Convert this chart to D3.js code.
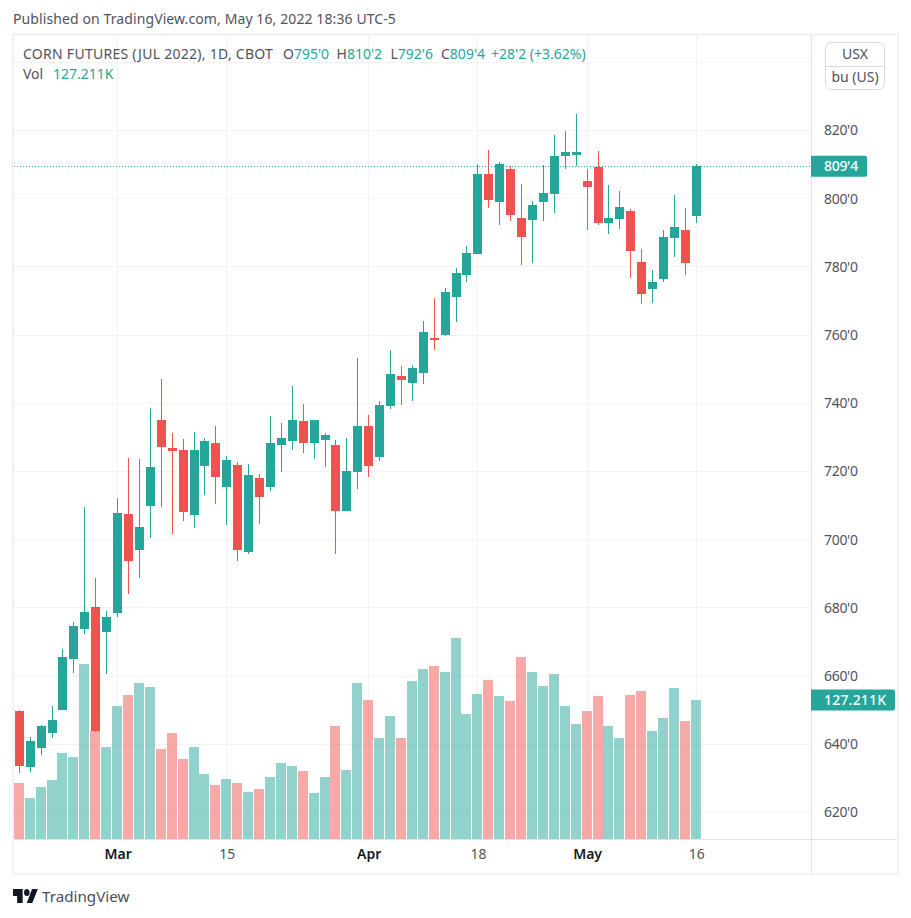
<!DOCTYPE html>
<html>
<head>
<meta charset="utf-8">
<script src="https://cdn.jsdelivr.net/npm/d3@7"></script>
<style>
  html, body { margin: 0; padding: 0; background: #fff; }
  svg { display: block; }
  text { font-family: "Noto Sans", sans-serif; }
</style>
</head>
<body>
<svg id="chart" width="911" height="918"></svg>
<script>
// trading days, Feb 15 to May 16 2022
const dates = [
  "02-15","02-16","02-17","02-18","02-22","02-23","02-24","02-25","02-28",
  "03-01","03-02","03-03","03-04","03-07","03-08","03-09","03-10","03-11",
  "03-14","03-15","03-16","03-17","03-18","03-21","03-22","03-23","03-24","03-25",
  "03-28","03-29","03-30","03-31","04-01","04-04","04-05","04-06","04-07","04-08",
  "04-11","04-12","04-13","04-14","04-18","04-19","04-20","04-21","04-22",
  "04-25","04-26","04-27","04-28","04-29","05-02","05-03","05-04","05-05","05-06",
  "05-09","05-10","05-11","05-12","05-13","05-16"
]
const opens = [
  649.75,633.25,639,643.25,650,665,673.75,680.25,673,678.5,707.5,697,710,735,727,726.25,
  707.25,721.5,728.25,715.5,722,696.5,718,715.5,727.75,729,734.75,728.25,729.25,727.75,708.5,
  719.75,733.25,724.25,739.25,748,746,749,759.25,760,771.25,777.5,783.75,807.25,799,808.75,
  794.25,793.75,799,801.5,812.5,812.75,805.25,809.25,792.75,794,796.5,781.5,773.5,776.5,788.5,790.75,795
]
const highs = [
  650,642.25,645.75,651.25,668,675.75,709.5,688.75,679,712.25,724,723.75,738.5,747,731.25,729.5,
  731.5,729.75,733.25,724.5,722.75,722.25,719.25,736.25,734.25,745,739.75,735,731.25,729.25,729.75,
  753.25,736.5,740.75,755.5,751,751.25,764.25,771,773.75,779.75,786,810.25,814.25,810.75,809.5,
  804.25,799.25,810,818.75,819.75,824.75,808.75,814,804,802.25,797,785.25,779,790.75,801,797.25,810.25
]
const lows = [
  631.5,631.75,636.75,641.75,650,661,672.25,643.5,660.5,677.25,684,688.75,700.5,709.5,701.75,705.5,
  703.5,713,710.5,704.25,693.75,695.75,704.5,714.25,719.75,726.25,725.5,723.75,721.25,695.75,708.5,
  714.75,718.5,723,738.25,739.5,740.75,745.75,755.5,759.75,763.75,775.5,783.75,797.25,792.25,793.5,
  780.5,781.25,793.5,795.75,808.75,809.5,790.75,792.25,789.75,791,776.75,769,769.5,775.5,783,777.5,792.75
]
const closes = [
  633.75,641,645.25,647,665.5,674.75,678.75,644,677.25,707.75,693.75,703.75,721.25,727.25,726,708,
  726.25,729,718.5,723.25,697,719,712.5,728.25,729.75,735,728.25,735,730.75,708.5,720.25,
  733.25,721.5,739.5,748.5,746.75,750.25,761,758.5,772.5,778.25,784,807.25,799.5,810.25,795.25,
  788.75,798.25,801.75,812.5,813.75,813.75,803.5,792.75,794.25,797.5,784.75,772,775.5,788.75,791.75,781.25,809.5
]
// volume in thousands
const volumes = [
  51.3,37.5,47.6,54,78.7,75,160.2,98.8,84.2,121.7,131.8,142.8,139.1,82.4,97,73.2,
  84.2,59.5,49.4,54.9,51.3,43,45.8,56.7,69.6,66.8,62.2,42.1,56.7,103.4,63.1,
  142.8,127.2,92.4,112.6,92.4,144.6,155.6,158.3,152.8,184,114.4,132.7,145.5,130.9,126.3,
  166.6,152.8,140,151,121.7,105.2,117.1,130.9,103.4,92.4,131.8,135.4,98.8,110.7,138.2,108,127.211
]
const priceTicks = [620,640,660,680,700,720,740,760,780,800,820]
const gridOnlyPrices = [840]
const timeTickDates = ["03-01","03-15","04-01","04-18","05-02","05-16"]
const timeTickLabels = ["Mar","15","Apr","18","May","16"]
const monthLabels = ["Mar","Apr","May"]

const UP = "#26a69a", DOWN = "#ef5350"
const GRID = "#f3f3f6", BORDER = "#e0e3eb", FRAME = "#f0f0f6"
const TEXT = "#50535e"

const axisX = 811.5, axisY = 839.5

const svg = d3.select("#chart")

const x = d3.scalePoint().domain(dates).range([19.3, 696.3])
const y = d3.scaleLinear().domain([620, 820]).range([812.5, 130.5])
const yVol = d3.scaleLinear().domain([0, 127.211]).range([839, 700])

const lastClose = closes[closes.length - 1]
const lastVol = volumes[volumes.length - 1]
const isUp = i => closes[i] >= opens[i]
const px = d => Math.floor(x(d))

// outer frame
svg.append("rect")
  .attr("x", 13).attr("y", 34.5).attr("width", 885).attr("height", 839.5)
  .attr("fill", "none").attr("stroke", FRAME).attr("stroke-width", 2)

// grid
const grid = svg.append("g").attr("shape-rendering", "crispEdges")
grid.selectAll("line.h").data(priceTicks.concat(gridOnlyPrices)).join("line")
  .attr("class", "h")
  .attr("x1", 14).attr("x2", axisX)
  .attr("y1", d => y(d)).attr("y2", d => y(d))
  .attr("stroke", GRID)
grid.selectAll("line.v").data(timeTickDates).join("line")
  .attr("class", "v")
  .attr("x1", d => px(d) + 0.5).attr("x2", d => px(d) + 0.5)
  .attr("y1", 35).attr("y2", axisY)
  .attr("stroke", GRID)

// volume
svg.append("g").attr("shape-rendering", "crispEdges")
  .selectAll("rect").data(dates).join("rect")
  .attr("x", d => px(d) - 5)
  .attr("width", 10)
  .attr("y", (d, i) => yVol(volumes[i]))
  .attr("height", (d, i) => yVol(0) - yVol(volumes[i]))
  .attr("fill", (d, i) => isUp(i) ? UP : DOWN)
  .attr("fill-opacity", 0.5)

// candles
const candles = svg.append("g").attr("shape-rendering", "crispEdges")
candles.selectAll("rect.wick").data(dates).join("rect")
  .attr("class", "wick")
  .attr("x", d => px(d))
  .attr("width", 1)
  .attr("y", (d, i) => y(highs[i]))
  .attr("height", (d, i) => y(lows[i]) - y(highs[i]))
  .attr("fill", (d, i) => isUp(i) ? UP : DOWN)
candles.selectAll("rect.body").data(dates).join("rect")
  .attr("class", "body")
  .attr("x", d => px(d) - 4)
  .attr("width", 9)
  .attr("y", (d, i) => y(Math.max(opens[i], closes[i])))
  .attr("height", (d, i) => Math.max(1, Math.abs(y(opens[i]) - y(closes[i]))))
  .attr("fill", (d, i) => isUp(i) ? UP : DOWN)

// last price line
svg.append("line")
  .attr("x1", 14).attr("x2", axisX)
  .attr("y1", Math.round(y(lastClose)) + 0.5).attr("y2", Math.round(y(lastClose)) + 0.5)
  .attr("stroke", UP).attr("stroke-dasharray", "1 2")

// axis borders
svg.append("line").attr("x1", 14).attr("x2", 897).attr("y1", axisY).attr("y2", axisY).attr("stroke", BORDER)
svg.append("line").attr("x1", axisX).attr("x2", axisX).attr("y1", 35).attr("y2", 873).attr("stroke", BORDER)

// price axis
const priceAxis = svg.append("g")
  .attr("transform", `translate(${axisX},0)`)
  .call(d3.axisRight(y).tickValues(priceTicks).tickSize(0).tickPadding(12.5).tickFormat(d => d + "'0"))
priceAxis.select(".domain").remove()
priceAxis.selectAll("text")
  .attr("fill", TEXT).style("font-size", "14px").style("letter-spacing", "-0.3px")
  .style("font-family", '"Noto Sans", sans-serif')

// time axis
const timeAxis = svg.append("g")
  .attr("transform", `translate(0,${axisY})`)
  .call(d3.axisBottom(x).tickValues(timeTickDates).tickSize(0).tickPadding(10)
    .tickFormat(d => timeTickLabels[timeTickDates.indexOf(d)]))
timeAxis.select(".domain").remove()
timeAxis.selectAll("text")
  .attr("fill", (d, i) => monthLabels.includes(timeTickLabels[i]) ? "#131722" : TEXT)
  .style("font-weight", (d, i) => monthLabels.includes(timeTickLabels[i]) ? "600" : "400")
  .style("font-size", "14px").style("font-family", '"Noto Sans", sans-serif')

// value badges on the price axis
function badge(cy, w, label, spacing) {
  const g = svg.append("g")
  g.append("path")
    .attr("d", `M${axisX - 0.5},${cy - 10.5}h${w - 2}a2,2 0 0 1 2,2v17a2,2 0 0 1 -2,2h${-(w - 2)}z`)
    .attr("fill", UP)
  g.append("text").attr("x", 824).attr("y", cy + 5)
    .attr("fill", "#fff").attr("font-size", 14).attr("font-weight", 500)
    .style("letter-spacing", spacing).text(label)
}
badge(y(lastClose), 56, "809'4", "-0.3px")
badge(yVol(lastVol), 84, "127.211K", "0.2px")

// currency / unit box
const unit = svg.append("g")
unit.append("rect").attr("x", 825.5).attr("y", 42.5).attr("width", 59).attr("height", 47).attr("rx", 6)
  .attr("fill", "#fff").attr("stroke", "#d6d8df")
unit.append("line").attr("x1", 825.5).attr("x2", 884.5).attr("y1", 66.5).attr("y2", 66.5).attr("stroke", "#d6d8df")
unit.append("text").attr("x", 855).attr("y", 59).attr("text-anchor", "middle").attr("fill", TEXT).attr("font-size", 14).text("USX")
unit.append("text").attr("x", 855).attr("y", 82).attr("text-anchor", "middle").attr("fill", TEXT).attr("font-size", 14).text("bu (US)")

// legend
svg.append("text").attr("x", 23).attr("y", 59).attr("font-size", 14).attr("fill", TEXT)
  .style("letter-spacing", "0.27px").text("CORN FUTURES (JUL 2022), 1D, CBOT")
const ohlcLabels = ["O", "H", "L", "C"]
const ohlcValues = ["795'0", "810'2", "792'6", "809'4"]
const ohlcX = [283, 336.5, 390.5, 441]
ohlcLabels.forEach((label, i) => {
  const t = svg.append("text").attr("x", ohlcX[i]).attr("y", 59).attr("font-size", 14)
  t.append("tspan").attr("fill", TEXT).text(label)
  t.append("tspan").attr("fill", UP).text(ohlcValues[i])
})
svg.append("text").attr("x", 491).attr("y", 59).attr("font-size", 14).attr("fill", UP).text("+28'2 (+3.62%)")

svg.append("text").attr("x", 23).attr("y", 79).attr("font-size", 14).attr("fill", TEXT).text("Vol")
svg.append("text").attr("x", 53).attr("y", 79).attr("font-size", 14).attr("fill", UP).text("127.211K")

// header and footer
svg.append("text").attr("x", 13).attr("y", 24).attr("font-size", 14).attr("fill", TEXT)
  .style("letter-spacing", "0.1px")
  .text("Published on TradingView.com, May 16, 2022 18:36 UTC-5")

const logo = svg.append("g").attr("transform", "translate(13,883.75) scale(0.69,0.875)").attr("fill", "#131722")
logo.append("path").attr("d", "M14 6H0v8h6v8h8V6ZM28 22h-8l7.5-16H36l-8 16Z")
logo.append("circle").attr("cx", 20).attr("cy", 10).attr("r", 4)
svg.append("text").attr("x", 42).attr("y", 902).attr("font-size", 15.2).attr("fill", "#4a4e5a").text("TradingView")
</script>
</body>
</html>
